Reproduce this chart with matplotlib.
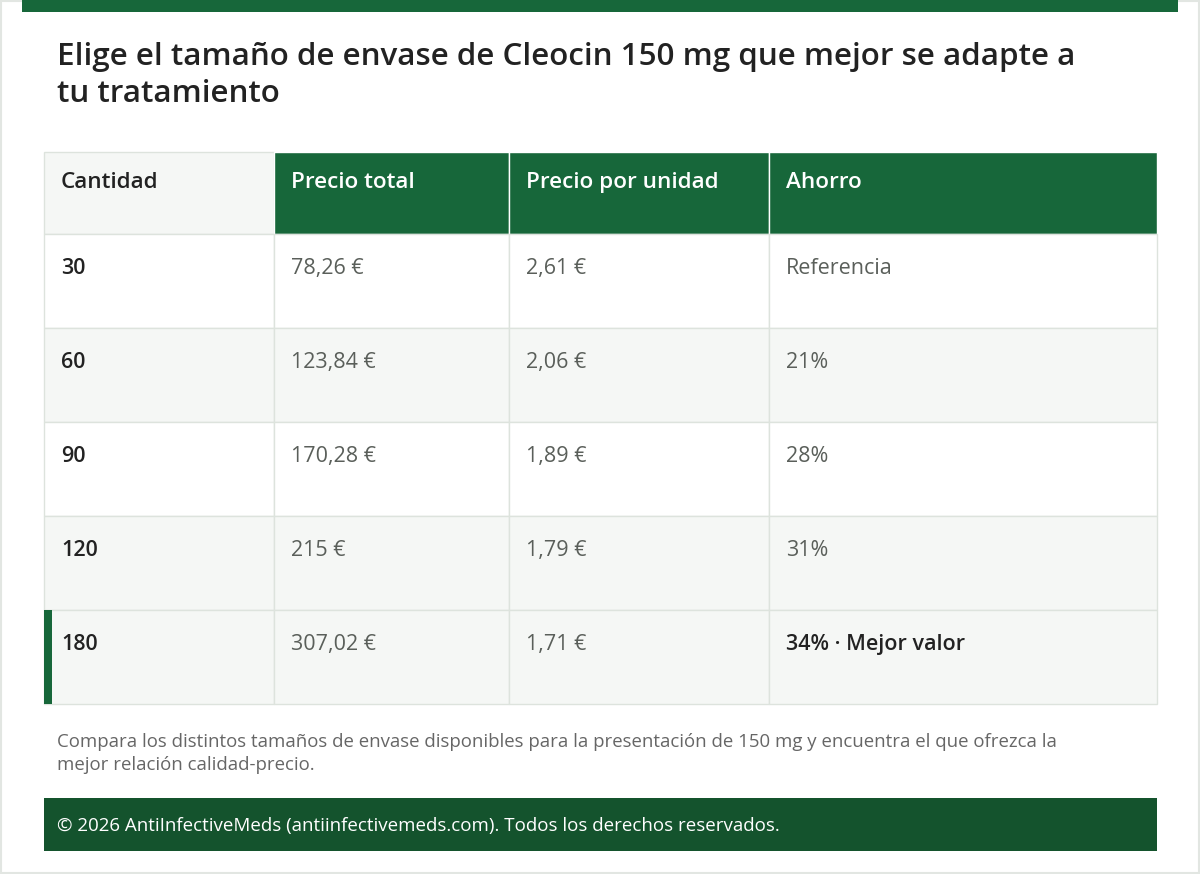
import matplotlib
matplotlib.use("Agg")
import matplotlib.pyplot as plt
from matplotlib.patches import Rectangle

plt.rcParams['font.family'] = ['Open Sans', 'DejaVu Sans']
BOLDF = ['Open Sans', 'Lato', 'DejaVu Sans']

title_lines = ["Elige el tamaño de envase de Cleocin 150 mg que mejor se adapte a", "tu tratamiento"]
headers = ["Cantidad", "Precio total", "Precio por unidad", "Ahorro"]
cantidades = ["30", "60", "90", "120", "180"]
precio_total = ["78,26 €", "123,84 €", "170,28 €", "215 €", "307,02 €"]
precio_unidad = ["2,61 €", "2,06 €", "1,89 €", "1,79 €", "1,71 €"]
ahorro = ["Referencia", "21%", "28%", "31%", "34% · Mejor valor"]
best_index = 4
nota = ["Compara los distintos tamaños de envase disponibles para la presentación de 150 mg y encuentra el que ofrezca la",
        "mejor relación calidad-precio."]
footer = "© 2026 AntiInfectiveMeds (antiinfectivemeds.com). Todos los derechos reservados."

GREEN = "#17673a"; DARK = "#14532d"; LIGHT = "#f5f7f5"; GRID = "#dde3dd"
fig = plt.figure(figsize=(12, 8.74), dpi=100)
ax = fig.add_axes([0, 0, 1, 1]); ax.set_xlim(0, 1200); ax.set_ylim(874, 0); ax.axis("off")

ax.add_patch(Rectangle((1, 1), 1198, 872, fill=False, ec="#e2e6e2", lw=1.5))
ax.add_patch(Rectangle((22, 0), 1156, 12, color=GREEN, lw=0))
for i, t in enumerate(title_lines):
    ax.text(57, 53 + 38 * i, t, fontsize=22.6, fontweight="semibold", family=BOLDF, color="#222222", va="center_baseline")

cols = [44, 274, 509, 769, 1157]
hy0, hy1 = 152, 234
rh = 94
for j, h in enumerate(headers):
    bg = LIGHT if j == 0 else GREEN
    ax.add_patch(Rectangle((cols[j], hy0), cols[j+1]-cols[j], hy1-hy0, fc=bg, ec=GRID if j == 0 else "#ffffff", lw=1))
    ax.text(cols[j] + 17, 180, h, fontsize=16.2, family=BOLDF, color="#222222" if j == 0 else "white", va="center_baseline", fontweight="semibold")

rows = list(zip(cantidades, precio_total, precio_unidad, ahorro))
for i, r in enumerate(rows):
    y = hy1 + i * rh
    bg = LIGHT if (i % 2 == 1 or i == best_index) else "white"
    for j in range(4):
        ax.add_patch(Rectangle((cols[j], y), cols[j+1]-cols[j], rh, fc=bg, ec=GRID, lw=1))
    for j, v in enumerate(r):
        if j == 0 or (j == 3 and i == best_index):
            c, w = "#222222", "semibold"
        else:
            c, w = "#5a5f5a", "normal"
        ax.text(cols[j] + 17, y + 32, v, fontsize=15.5, color=c, fontweight=w, family=BOLDF, va="center_baseline")
    if i == best_index:
        ax.add_patch(Rectangle((44, y), 8, rh, color=GREEN, lw=0))

for i, t in enumerate(nota):
    ax.text(57, 740 + 23 * i, t, fontsize=13.4, color="#666666", va="center_baseline")

ax.add_patch(Rectangle((44, 798), 1113, 53, color=DARK, lw=0))
ax.text(57, 824, footer, fontsize=13.5, color="white", va="center_baseline")

fig.savefig("out.png", dpi=100)
